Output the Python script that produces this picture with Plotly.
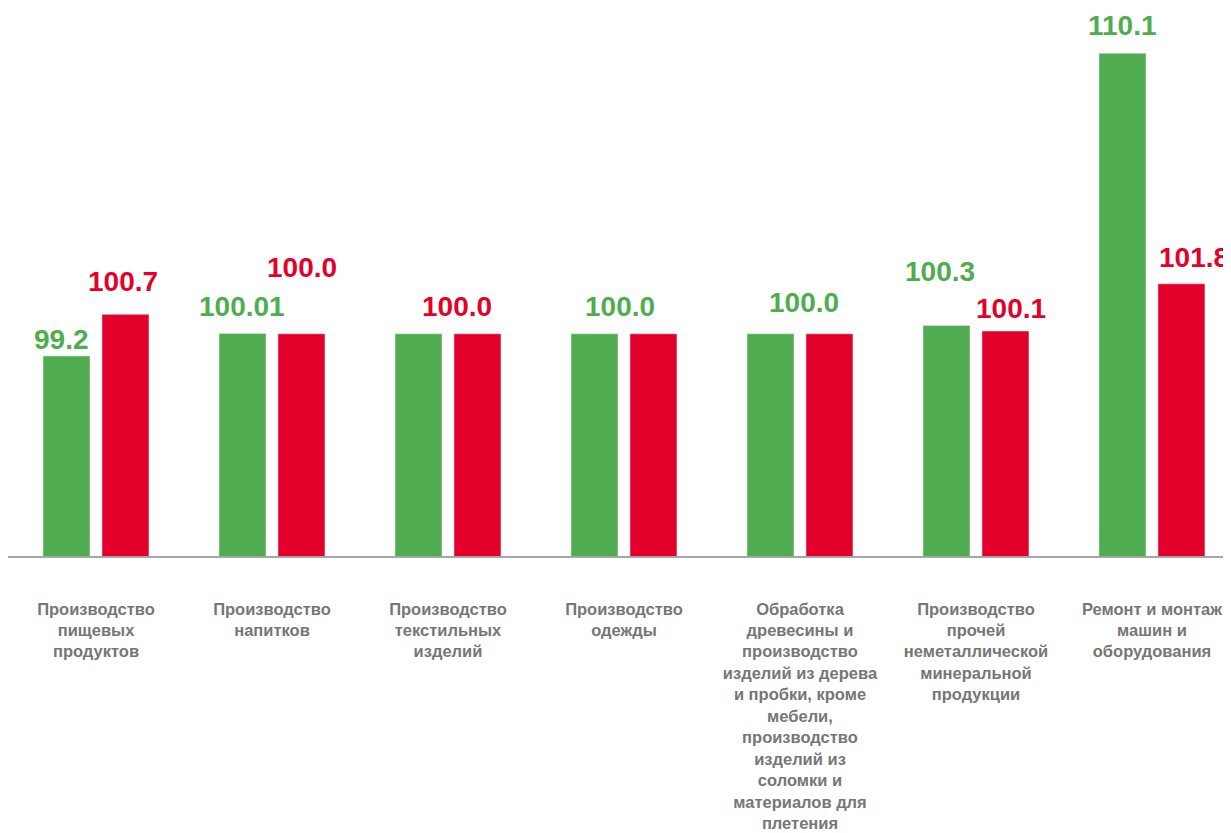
import plotly.graph_objects as go

categories = [
    "Производство<br>пищевых<br>продуктов",
    "Производство<br>напитков",
    "Производство<br>текстильных<br>изделий",
    "Производство<br>одежды",
    "Обработка<br>древесины и<br>производство<br>изделий из дерева<br>и пробки, кроме<br>мебели,<br>производство<br>изделий из<br>соломки и<br>материалов для<br>плетения",
    "Производство<br>прочей<br>неметаллической<br>минеральной<br>продукции",
    "Ремонт и монтаж<br>машин и<br>оборудования",
]
series_green = [99.2, 100.01, 100.0, 100.0, 100.0, 100.3, 110.1]
series_red = [100.7, 100.0, 100.0, 100.0, 100.0, 100.1, 101.8]

# which data labels are shown
show_green = [True, True, False, True, True, True, True]
show_red = [True, True, True, False, False, True, True]

# label placement offsets in px (dx from category centre, dy above bar top)
green_off = [(-35, 17), (-30, 27), (0, 27), (-4, 27), (4, 31), (-36, 54), (-29, 28)]
red_off = [(27, 33), (30, 66), (9, 27), (0, 27), (0, 27), (35, 23), (42, 26)]

GREEN = "#4fad4f"
RED = "#e3002b"
FONT = "Liberation Sans, Arial, sans-serif"

x_idx = list(range(len(categories)))

fig = go.Figure()
fig.add_trace(go.Bar(x=x_idx, y=series_green, marker_color=GREEN, name="green"))
fig.add_trace(go.Bar(x=x_idx, y=series_red, marker_color=RED, name="red"))

annotations = []
for i in x_idx:
    if show_green[i]:
        dx, dy = green_off[i]
        annotations.append(dict(x=i, y=series_green[i], xref="x", yref="y",
                                text="<b>" + str(series_green[i]) + "</b>", showarrow=False,
                                xanchor="center", yanchor="middle", xshift=dx, yshift=dy,
                                font=dict(family=FONT, size=28, color=GREEN)))
    if show_red[i]:
        dx, dy = red_off[i]
        annotations.append(dict(x=i, y=series_red[i], xref="x", yref="y",
                                text="<b>" + str(series_red[i]) + "</b>", showarrow=False,
                                xanchor="center", yanchor="middle", xshift=dx, yshift=dy,
                                font=dict(family=FONT, size=28, color=RED)))

fig.update_layout(
    width=1223, height=825,
    margin=dict(l=0, r=0, t=0, b=277),
    paper_bgcolor="white", plot_bgcolor="white",
    barmode="group", bargap=0.33, bargroupgap=0.203,
    showlegend=False,
    annotations=annotations,
    xaxis=dict(
        tickmode="array", tickvals=x_idx, ticktext=["<b>" + c + "</b>" for c in categories],
        range=[-0.5, 6.449], showgrid=False, zeroline=False,
        showline=True, linecolor="#a6a6a6", linewidth=1.5,
        ticks="outside", ticklen=37, tickcolor="rgba(0,0,0,0)",
        tickangle=0, automargin=False,
        tickfont=dict(family=FONT, size=16.5, color="#767676"),
    ),
    yaxis=dict(range=[92, 111.73], showgrid=False, zeroline=False, showline=False,
               showticklabels=False, ticks="", automargin=False),
)

fig.write_html("out.html")
